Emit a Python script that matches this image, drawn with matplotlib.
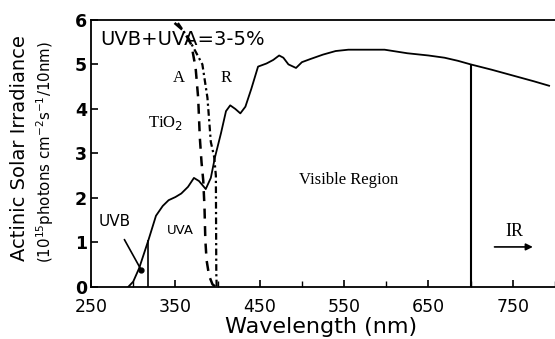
import numpy as np
import matplotlib
matplotlib.use('Agg')
import matplotlib.pyplot as plt

# solar actinic irradiance
wl = [294, 300, 307, 318, 327, 335, 342, 350, 357, 365, 372, 378, 386, 392, 397,
      404, 410, 415, 421, 427, 433, 440, 448, 458, 466, 473, 478, 484, 493, 500,
      510, 525, 540, 555, 575, 598, 625, 650, 669, 685, 700, 725, 750, 775, 793]
irr = [0.0, 0.12, 0.42, 1.05, 1.6, 1.82, 1.95, 2.02, 2.1, 2.25, 2.45, 2.38, 2.2, 2.45, 2.92,
       3.45, 3.95, 4.08, 4.0, 3.9, 4.05, 4.45, 4.95, 5.02, 5.1, 5.2, 5.15, 5.0, 4.92, 5.05,
       5.12, 5.22, 5.3, 5.33, 5.33, 5.33, 5.25, 5.2, 5.15, 5.08, 5.0, 4.88, 4.75, 4.62, 4.52]

# TiO2 absorption edges, anatase (A) and rutile (R)
wl_A = [349, 360, 369, 374, 377, 379, 381, 383, 384.5, 385.5, 387, 390, 394, 398]
abs_A = [5.93, 5.75, 5.44, 4.92, 4.25, 3.35, 2.8, 2.4, 1.8, 1.06, 0.6, 0.25, 0.06, 0.0]
wl_R = [353, 365, 375, 382, 388, 392, 396, 398, 398.5, 399]
abs_R = [5.93, 5.6, 5.25, 5.0, 4.25, 3.26, 2.92, 2.5, 0.3, 0.0]

uvb_edge = 318
vis_edge = 700

fig = plt.figure(figsize=(5.55, 3.39), dpi=100)
ax = fig.add_axes([0.164, 0.1534, 0.836, 0.788])

ax.plot(wl, irr, color='black', lw=1.3)
ax.plot(wl_A, abs_A, color='black', lw=1.8, ls=(0, (4, 3)))
ax.plot(wl_R, abs_R, color='black', lw=1.6, ls=(0, (3, 1.5, 1, 1.5)))

ax.vlines(uvb_edge, 0, np.interp(uvb_edge, wl, irr), color='black', lw=1.2)
ax.vlines(vis_edge, 0, np.interp(vis_edge, wl, irr), color='black', lw=1.5)

ax.set_xlim(250, 793)
ax.set_ylim(0, 6)
ax.set_xticks([250, 350, 450, 550, 650, 750])
ax.set_xticks([300, 400, 500, 600, 700, 800], minor=True)
ax.set_yticks([0, 1, 2, 3, 4, 5, 6])
ax.tick_params(direction='in', length=5, width=1.2, labelsize=12.5)
ax.tick_params(axis='x', pad=8)
ax.tick_params(axis='y', pad=3)
ax.tick_params(which='minor', direction='in', length=4, width=1.0)
for lab in ax.get_yticklabels():
    lab.set_fontweight('bold')
ax.spines['right'].set_visible(False)
for s in ['left', 'bottom', 'top']:
    ax.spines[s].set_linewidth(1.3)

serif = 'Liberation Serif'
ax.text(260.5, 5.55, 'UVB+UVA=3-5%', fontsize=14, ha='left', va='center')
ax.text(354, 4.70, 'A', fontsize=12, family=serif, ha='center', va='center')
ax.text(410, 4.70, 'R', fontsize=12, family=serif, ha='center', va='center')
ax.text(339, 3.69, 'TiO$_2$', fontsize=12, family=serif, ha='center', va='center')
ax.text(356, 1.26, 'UVA', fontsize=9.5, ha='center', va='center')
ax.text(555, 2.40, 'Visible Region', fontsize=12, family=serif, ha='center', va='center')
ax.text(752, 1.24, 'IR', fontsize=13, family=serif, ha='center', va='center')
ax.annotate('', xy=(777, 0.9), xytext=(725, 0.9),
            arrowprops=dict(arrowstyle='-|>', color='black', lw=1.2))
ax.annotate('UVB', xy=(309.6, 0.38), xytext=(278, 1.46), fontsize=11,
            ha='center', va='center',
            arrowprops=dict(arrowstyle='-', color='black', lw=1.2, shrinkA=6, shrinkB=0))
ax.plot([309.6], [0.38], marker='o', ms=3.5, color='black')

fig.text(0.036, 0.563, 'Actinic Solar Irradiance', rotation=90, fontsize=14,
         ha='center', va='center')
fig.text(0.081, 0.552, '(10$^{15}$photons cm$^{-2}$s$^{-1}$/10nm)', rotation=90,
         fontsize=10.8, ha='center', va='center')
fig.text(0.578, 0.035, 'Wavelength (nm)', fontsize=16, ha='center', va='center')

fig.savefig('out.png', dpi=100)
